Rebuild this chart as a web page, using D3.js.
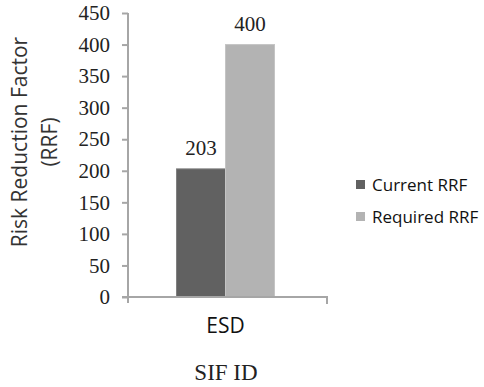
<!DOCTYPE html>
<html><head><meta charset="utf-8">
<script src="https://cdn.jsdelivr.net/npm/d3@7"></script>
<style>body{margin:0;background:#fff}svg{display:block}</style>
</head><body>
<svg id="c" width="484" height="387"></svg>
<script>
const categories = ["ESD"];
const seriesNames = ["Current RRF", "Required RRF"];
const currentRRF = [203];
const requiredRRF = [400];
const yTicks = [0, 50, 100, 150, 200, 250, 300, 350, 400, 450];
const colors = ["#616161", "#b3b3b3"];
const strokes = ["#808080", "#c4c4c4"];

const SANS = "'Open Sans', sans-serif";
const SERIF = "'Liberation Serif', serif";

const svg = d3.select("#c");
const x = d3.scaleBand().domain(categories).range([128, 323]).paddingInner(0).paddingOuter(0);
const y = d3.scaleLinear().domain([0, 450]).range([297, 13]);
const xs = d3.scaleBand().domain(seriesNames).range([0, x.bandwidth()]).paddingInner(0).paddingOuter(0.99);
const series = [currentRRF, requiredRRF];

const axisColor = "#a6a6a6";
// y axis
const ya = svg.append("g").attr("transform", "translate(128,0)")
  .call(d3.axisLeft(y).tickValues(yTicks).tickSize(6).tickPadding(12).tickFormat(d3.format("d")));
ya.select(".domain").attr("stroke", axisColor).attr("stroke-width", 2).attr("d", `M0,${y(450)}V${y(0)+6}`);
ya.selectAll(".tick line").attr("stroke", axisColor).attr("stroke-width", 2);
ya.selectAll(".tick text").style("font-family", SERIF).style("font-size", "21px").attr("fill", "#222");

// bars
categories.forEach((c, ci) => {
  series.forEach((s, si) => {
    svg.append("rect")
      .attr("x", x(c) + xs(seriesNames[si]))
      .attr("y", y(s[ci]))
      .attr("width", xs.bandwidth())
      .attr("height", y(0) - y(s[ci]))
      .attr("fill", colors[si]).attr("stroke", strokes[si]).attr("stroke-width", 1);
    svg.append("text")
      .attr("x", x(c) + xs(seriesNames[si]) + xs.bandwidth() / 2)
      .attr("y", y(s[ci]) - 14)
      .attr("text-anchor", "middle")
      .style("font-family", SERIF).style("font-size", "21px").attr("fill", "#222")
      .text(s[ci]);
  });
});

// x axis
const xa = svg.append("g").attr("transform", `translate(0,${y(0)})`)
  .call(d3.axisBottom(x).tickSize(0).tickPadding(21));
xa.select(".domain").attr("stroke", axisColor).attr("stroke-width", 2).attr("d", `M122,0H327V7`);
xa.selectAll(".tick text").style("font-family", SANS).style("font-size", "21px").attr("fill", "#111");

// x title
svg.append("text").attr("x", 226).attr("y", 380).attr("text-anchor", "middle")
  .style("font-family", SERIF).style("font-size", "23px").attr("fill", "#222").text("SIF ID");

// y title
const yt = svg.append("text").attr("transform", "translate(0,142) rotate(-90)")
  .attr("text-anchor", "middle").style("font-family", SANS).style("font-size", "21px").attr("fill", "#333");
yt.append("tspan").attr("x", 0).attr("y", 27).text("Risk Reduction Factor");
yt.append("tspan").attr("x", 0).attr("y", 57).text("(RRF)");

// legend
seriesNames.forEach((n, i) => {
  const ly = 180 + i * 32;
  svg.append("rect").attr("x", 356).attr("y", ly).attr("width", 9).attr("height", 9).attr("fill", colors[i]);
  svg.append("text").attr("x", 372).attr("y", ly + 11).style("font-family", SANS)
    .style("font-size", "17px").attr("fill", "#111").text(n);
});
</script>
</body></html>
